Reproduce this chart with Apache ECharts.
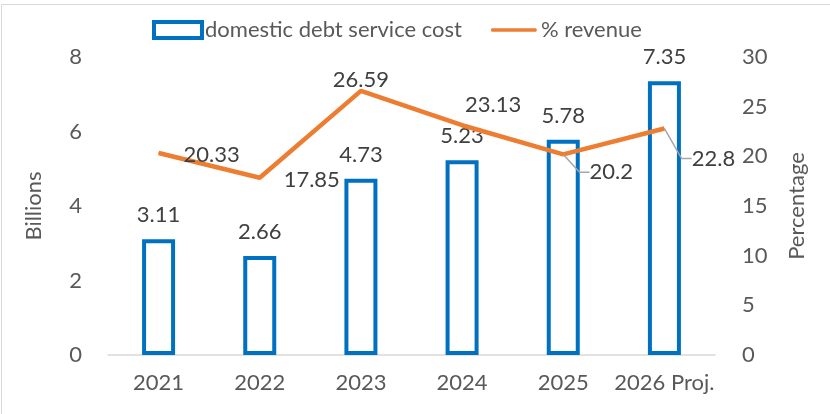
<!DOCTYPE html>
<html>
<head>
<meta charset="utf-8">
<script src="https://cdn.jsdelivr.net/npm/echarts@6/dist/echarts.min.js"></script>
<style>
  html, body { margin: 0; padding: 0; background: #fff; }
  #chart { width: 830px; height: 414px; }
</style>
</head>
<body>
<div id="chart"></div>
<script>
// Categories and series values
const years = ['2021', '2022', '2023', '2024', '2025', '2026 Proj.'];
const debtServiceCost = [3.11, 2.66, 4.73, 5.23, 5.78, 7.35];   // billions
const revenueShare = [20.33, 17.85, 26.59, 23.13, 20.2, 22.8];  // % of revenue

// Per-point label shift for the percentage labels (pixels)
const pctLabelShift = [[53, 2], [52, 2], [0, -11], [31, -20], [48, 18], [49, 30]];
const pctLeader = [false, false, false, false, true, true];

const FONT = 'Lato';
const TEXT = '#595959';
const LABEL = '#404040';
const FS = 22;

const chart = echarts.init(document.getElementById('chart'), null, { renderer: 'canvas' });

chart.setOption({
  backgroundColor: '#ffffff',
  animation: false,
  textStyle: { fontFamily: FONT },
  graphic: [{
    type: 'rect',
    shape: { x: 1.5, y: 4.5, width: 900, height: 500 },
    style: { fill: 'none', stroke: '#d9d9d9', lineWidth: 1 },
    silent: true
  }],
  legend: {
    top: 14,
    left: 147,
    itemGap: 28,
    itemWidth: 48,
    itemHeight: 16,
    textStyle: { color: TEXT, fontSize: FS, fontFamily: FONT, padding: [0, 0, 0, -2] },
    data: [
      { name: 'domestic debt service cost', icon: 'rect',
        itemStyle: { color: '#ffffff', borderColor: '#0070C0', borderWidth: 4 } },
      // plain orange stroke as the line key
      { name: '% revenue',
        icon: 'path://M0,0L52,0L52,0.01Z M0,6.2Q0,6.2 2,6.2L50,6.2Q52,8 50,9.8L2,9.8Q0,8 2,6.2Z M0,16L52,16L52,16.01Z',
        itemStyle: { color: '#ED7D31', borderWidth: 0 } }
    ]
  },
  grid: { left: 108, right: 115, top: 57, bottom: 59, containLabel: false },
  xAxis: {
    type: 'category',
    data: years,
    axisLine: { lineStyle: { color: '#d9d9d9', width: 1.5 } },
    axisTick: { show: false },
    axisLabel: { color: TEXT, fontSize: FS, margin: 17, interval: 0 }
  },
  yAxis: [
    {
      type: 'value', min: 0, max: 8, interval: 2,
      name: 'Billions', nameLocation: 'middle', nameGap: 63, nameRotate: 90,
      nameTextStyle: { color: TEXT, fontSize: FS },
      axisLine: { show: false }, axisTick: { show: false }, splitLine: { show: false },
      axisLabel: { color: TEXT, fontSize: FS, margin: 26 }
    },
    {
      type: 'value', min: 0, max: 30, interval: 5,
      name: 'Percentage', nameLocation: 'middle', nameGap: 71, nameRotate: 90,
      nameTextStyle: { color: TEXT, fontSize: FS },
      axisLine: { show: false }, axisTick: { show: false }, splitLine: { show: false },
      axisLabel: { color: TEXT, fontSize: FS, margin: 27 }
    }
  ],
  series: [
    {
      name: 'domestic debt service cost',
      type: 'bar',
      yAxisIndex: 0,
      barWidth: 33,
      data: debtServiceCost,
      itemStyle: { color: '#ffffff', borderColor: '#0070C0', borderWidth: 4 },
      label: { show: true, position: 'top', distance: 13, color: LABEL, fontSize: FS }
    },
    {
      name: '% revenue',
      type: 'line',
      yAxisIndex: 1,
      symbol: 'circle',
      symbolSize: 1,
      showSymbol: true,
      z: 5,
      lineStyle: { color: '#ED7D31', width: 4.5 },
      itemStyle: { color: '#ED7D31' },
      data: revenueShare.map((v, i) => ({
        value: v,
        labelLine: { show: pctLeader[i] }
      })),
      label: { show: true, position: 'inside', color: LABEL, fontSize: FS },
      labelLine: { length2: 10, lineStyle: { color: '#a6a6a6', width: 1.5 } },
      labelLayout: function (p) {
        const s = pctLabelShift[p.dataIndex];
        return { dx: s[0], dy: s[1] };
      }
    }
  ]
});
</script>
</body>
</html>
